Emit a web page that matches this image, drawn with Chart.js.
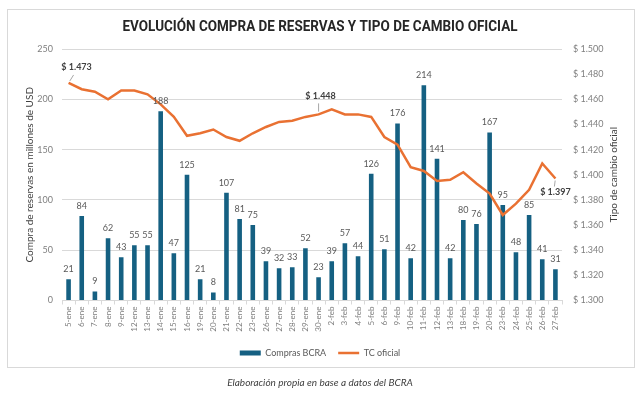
<!DOCTYPE html>
<html lang="es">
<head>
<meta charset="utf-8">
<script src="https://cdn.jsdelivr.net/npm/chart.js@4.4.1/dist/chart.umd.min.js"></script>
<style>
html,body{margin:0;padding:0;background:#fff;}
#wrap{position:relative;width:640px;height:396px;overflow:hidden;}
#box{position:absolute;left:7px;top:9px;width:628px;height:359px;border:1px solid #d9d9d9;box-sizing:border-box;}
#c{position:absolute;left:0;top:0;}
#cap{position:absolute;left:0;width:640px;top:376px;height:14px;line-height:14px;text-align:center;font:italic 10px Lato, sans-serif;color:#404040;}
</style>
</head>
<body>
<div id="wrap">
  <div id="box"></div>
  <canvas id="c" width="640" height="396"></canvas>
  <div id="cap">Elaboración propia en base a datos del BCRA</div>
</div>
<script>
const titulo = 'EVOLUCIÓN COMPRA DE RESERVAS Y TIPO DE CAMBIO OFICIAL';
const tituloEjeIzq = 'Compra de reservas en millones de USD';
const tituloEjeDer = 'Tipo de cambio oficial';

const categorias = ['5-ene','6-ene','7-ene','8-ene','9-ene','12-ene','13-ene','14-ene','15-ene','16-ene',
  '19-ene','20-ene','21-ene','22-ene','23-ene','26-ene','27-ene','28-ene','29-ene','30-ene',
  '2-feb','3-feb','4-feb','5-feb','6-feb','9-feb','10-feb','11-feb','12-feb','13-feb',
  '18-feb','19-feb','20-feb','23-feb','24-feb','25-feb','26-feb','27-feb'];

const comprasBCRA = [21,84,9,62,43,55,55,188,47,125,
  21,8,107,81,75,39,32,33,52,23,
  39,57,44,126,51,176,42,214,141,42,
  80,76,167,95,48,85,41,31];

const tcOficial = [1473,1468,1466,1460,1467,1467,1464,1456,1446,1431,
  1433,1436,1430,1427,1433,1438,1442,1443,1446,1448,
  1452,1448,1448,1446,1430,1424,1406,1403,1395,1396,
  1402,1393,1385,1368,1377,1388,1409,1397];

const ticksIzq = [0,50,100,150,200,250];
const ticksDer = [1300,1320,1340,1360,1380,1400,1420,1440,1460,1480,1500];

// indices of line points that carry a value label
const etiquetasTC = [0, 19, 37];

function fmtPeso(v){
  const miles = Math.floor(v/1000);
  const resto = String(Math.round(v - miles*1000)).padStart(3,'0');
  return '$ ' + miles + '.' + resto;
}

const extras = {
  id: 'extras',
  beforeDraw(chart){
    const ctx = chart.ctx;
    ctx.save();
    ctx.font = 'bold 14px Roboto';
    ctx.fillStyle = '#262626';
    const w = ctx.measureText(titulo).width;
    const sx = Math.min(1, 395 / w);
    ctx.translate(320, 27);
    ctx.scale(sx, 1);
    ctx.textAlign = 'center';
    ctx.textBaseline = 'middle';
    ctx.fillText(titulo, 0, 0);
    ctx.restore();

    const ca = chart.chartArea;
    const cy = (ca.top + ca.bottom) / 2;
    ctx.save();
    ctx.font = '10px Lato';
    ctx.fillStyle = '#404040';
    ctx.textAlign = 'center';
    ctx.textBaseline = 'middle';
    ctx.translate(30, cy);
    ctx.rotate(-Math.PI/2);
    ctx.fillText(tituloEjeIzq, 0, 0);
    ctx.restore();
    ctx.save();
    ctx.font = '10px Lato';
    ctx.fillStyle = '#404040';
    ctx.textAlign = 'center';
    ctx.textBaseline = 'middle';
    ctx.translate(614, cy);
    ctx.rotate(-Math.PI/2);
    ctx.fillText(tituloEjeDer, 0, 0);
    ctx.restore();
  },
  afterDatasetsDraw(chart){
    const ctx = chart.ctx;
    const bars = chart.getDatasetMeta(0).data;
    ctx.save();
    ctx.font = '9px Lato';
    ctx.fillStyle = '#595959';
    ctx.textAlign = 'center';
    ctx.textBaseline = 'middle';
    bars.forEach((b, i) => ctx.fillText(String(comprasBCRA[i]), b.x, b.y - 10));
    ctx.restore();

    const pts = chart.getDatasetMeta(1).data;
    const n = pts.length;
    ctx.save();
    ctx.font = 'bold 9px Lato';
    ctx.fillStyle = '#404040';
    ctx.strokeStyle = '#a6a6a6';
    ctx.lineWidth = 1;
    ctx.textAlign = 'center';
    ctx.textBaseline = 'middle';
    etiquetasTC.forEach(i => {
      const p = pts[i];
      const txt = fmtPeso(tcOficial[i]);
      let lx, ly, ax, ay;
      if (i === 0) { lx = p.x + 8; ly = p.y - 16; ax = p.x + 5; ay = p.y - 8; }
      else if (i === n - 1) { lx = p.x; ly = p.y + 14; ax = p.x - 1; ay = p.y + 8; }
      else { lx = p.x + 2; ly = p.y - 18; ax = p.x; ay = p.y - 11; }
      ctx.beginPath();
      ctx.moveTo(p.x + (ax - p.x) * 0.25, p.y + (ay - p.y) * 0.25);
      ctx.lineTo(ax, ay);
      ctx.stroke();
      ctx.fillText(txt, lx, ly);
    });
    ctx.restore();
  }
};

new Chart(document.getElementById('c'), {
  type: 'bar',
  data: {
    labels: categorias,
    datasets: [
      {
        type: 'bar',
        label: 'Compras BCRA',
        data: comprasBCRA,
        yAxisID: 'y',
        backgroundColor: '#156082',
        borderWidth: 0,
        barPercentage: 0.35,
        categoryPercentage: 1,
        pointStyle: 'rect',
        order: 2
      },
      {
        type: 'line',
        label: 'TC oficial',
        data: tcOficial,
        yAxisID: 'y1',
        borderColor: '#E97132',
        backgroundColor: '#E97132',
        borderWidth: 2.5,
        pointRadius: 0,
        tension: 0,
        pointStyle: 'line',
        order: 1
      }
    ]
  },
  options: {
    responsive: false,
    animation: false,
    devicePixelRatio: 1,
    layout: { padding: { top: 49, left: 0, right: 0, bottom: 28.5 } },
    plugins: {
      legend: {
        position: 'bottom',
        labels: {
          usePointStyle: true,
          pointStyleWidth: 21,
          boxHeight: 5,
          padding: 12,
          color: '#595959',
          font: { family: 'Lato', size: 9 },
          sort: (a, b) => a.datasetIndex - b.datasetIndex
        }
      },
      tooltip: { enabled: false },
      title: { display: false }
    },
    scales: {
      x: {
        grid: { display: true, drawOnChartArea: false, tickLength: 4, color: '#d9d9d9', offset: true },
        border: { display: true, color: '#d9d9d9' },
        ticks: { minRotation: 90, maxRotation: 90, autoSkip: false, padding: 2, color: '#808080', font: { family: 'Lato', size: 8 } },
        afterFit(s){ s.height = 36; }
      },
      y: {
        position: 'left',
        min: 0, max: 250,
        afterBuildTicks(s){ s.ticks = ticksIzq.map(v => ({ value: v })); },
        ticks: { padding: 9, color: '#7f7f7f', font: { family: 'Lato', size: 9 } },
        grid: { color: '#d9d9d9', drawTicks: false },
        border: { display: false },
        afterFit(s){ s.width = 62; }
      },
      y1: {
        position: 'right',
        min: 1300, max: 1500,
        afterBuildTicks(s){ s.ticks = ticksDer.map(v => ({ value: v })); },
        ticks: { padding: 11, color: '#7f7f7f', font: { family: 'Lato', size: 9 }, callback: v => fmtPeso(v) },
        grid: { display: false, drawTicks: false },
        border: { display: false },
        afterFit(s){ s.width = 78; }
      }
    }
  },
  plugins: [extras]
});
</script>
</body>
</html>
